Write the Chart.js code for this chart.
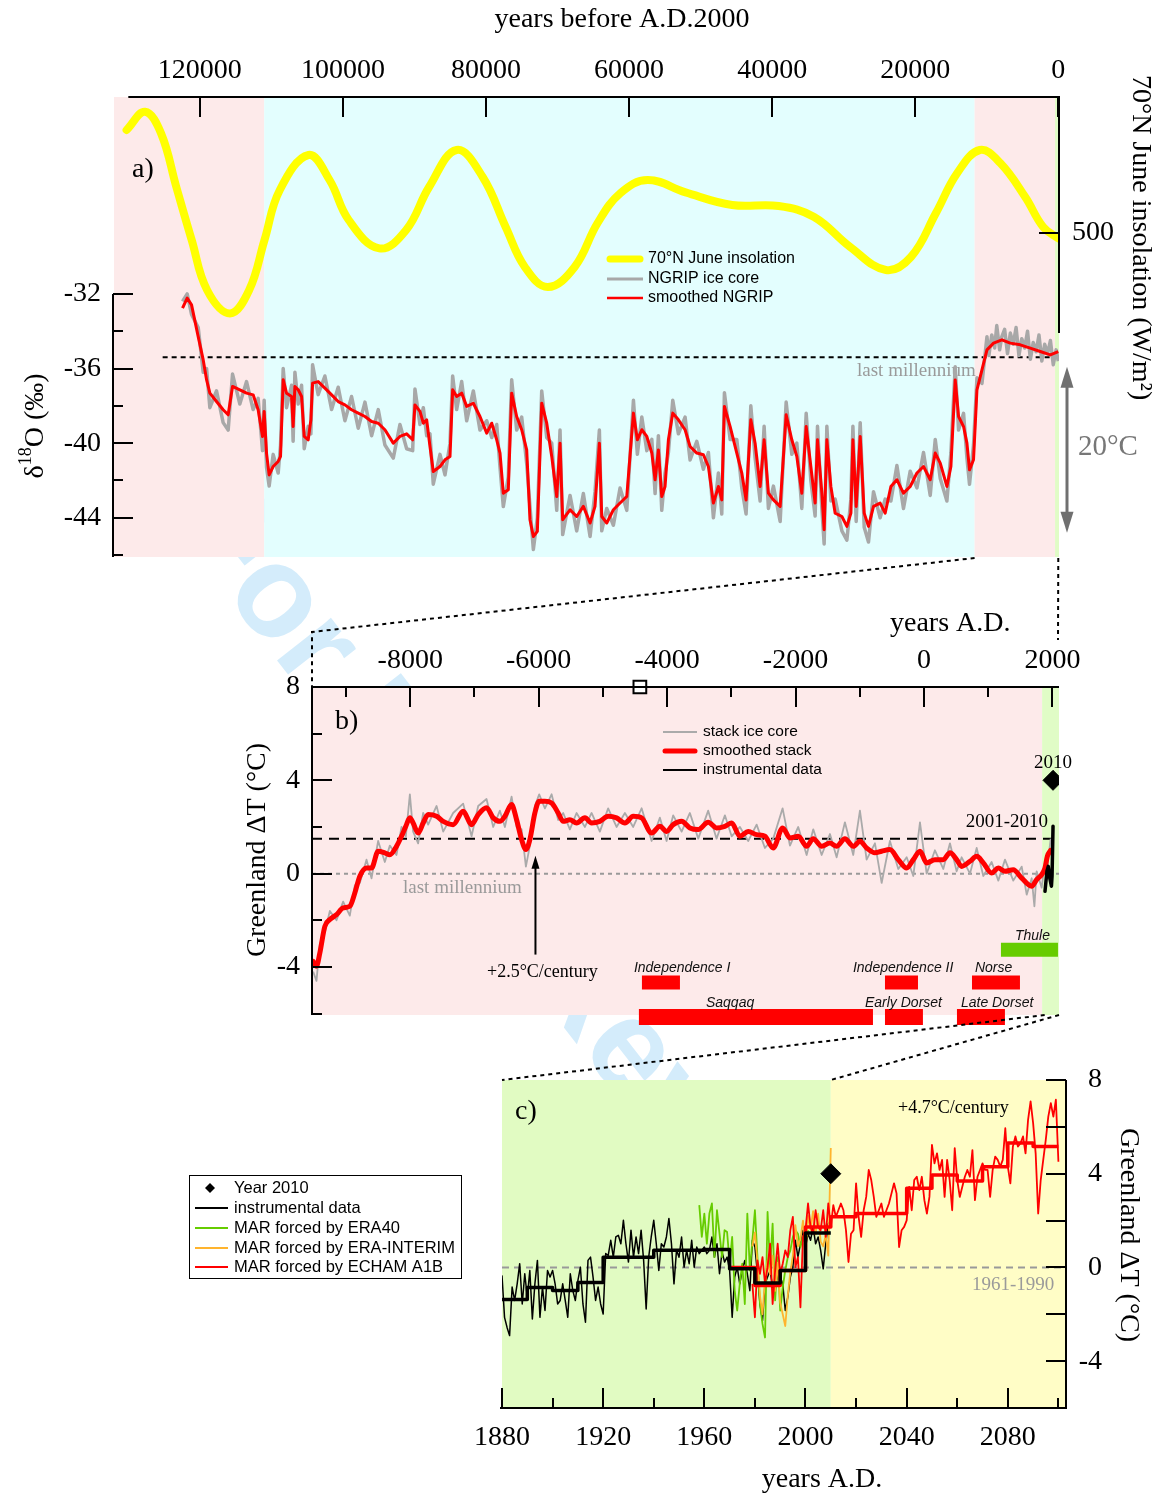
<!DOCTYPE html>
<html>
<head>
<meta charset="utf-8">
<title>Greenland temperature, NGRIP and MAR</title>
<script src="https://cdn.jsdelivr.net/npm/chart.js@4.4.1/dist/chart.umd.min.js"></script>
<style>
  html, body { margin: 0; padding: 0; background: #fff; }
  #page { position: relative; width: 1170px; height: 1497px; overflow: hidden; }
  #page canvas { position: absolute; left: 0; top: 0; }
</style>
</head>
<body>
<div id="page">
  <canvas id="wm" width="1170" height="1497"></canvas>
  <canvas id="chartA" width="1170" height="1497"></canvas>
  <canvas id="chartB" width="1170" height="1497"></canvas>
  <canvas id="chartC" width="1170" height="1497"></canvas>
</div>
<script>
// ---------- a) NGRIP d18O and 70N June insolation, years before A.D.2000
const insolAge = [130240, 127660, 125420, 123290, 121140, 118990, 115790, 113100, 110960, 108820,
  104810, 101870, 99190, 94910, 91160, 87950, 84100, 80460, 77250, 74570,
  71360, 67610, 64400, 61190, 57400, 52100, 45590, 39080, 34130, 29090,
  24100, 20600, 17100, 14120, 10970, 8110, 4620, 2110, 0];
const insolWm2 = [551.5, 560.6, 549.8, 523, 496.5, 471.5, 459.8, 471.5, 496.5, 521.5,
  539, 526.5, 506.5, 492.3, 501.5, 523, 541.5, 528, 503, 483,
  473, 483, 505, 520, 526.5, 520.3, 514, 513.5, 508, 493,
  481.5, 488, 510, 530, 541.5, 535, 518, 503, 497.3];

const ngripAge = [122420, 121770, 121160, 120230, 119530, 119060, 118600, 117670, 116740, 116040,
  115430, 114410, 113470, 112550, 111850, 111240, 111010, 110680, 110310, 109750,
  109050, 108720, 108350, 107880, 107180, 106960, 106710, 106250, 105780, 105410,
  104850, 104480, 104240, 103460, 102520, 101580, 100660, 99720, 98790, 97860,
  96920, 95990, 95060, 94130, 92960, 92030, 91090, 90250, 89930, 89230,
  88760, 88290, 87830, 87370, 86430, 85730, 85030, 84660, 84100, 83400,
  82700, 81770, 80840, 79900, 79200, 78500, 78040, 77580, 76880, 76410,
  75710, 75010, 74310, 73850, 73380, 72820, 72210, 71510, 70810, 70110,
  69650, 69280, 68250, 67320, 66390, 65450, 64760, 64150, 63820, 63120,
  62190, 61260, 60320, 59390, 58840, 58220, 57520, 56820, 56360, 55900,
  55430, 54970, 54500, 53890, 53100, 52170, 51470, 50530, 49610, 48910,
  48210, 47510, 47040, 46670, 45870, 44940, 44240, 43640, 42980, 42380,
  41680, 41120, 40520, 39820, 38880, 38040, 37250, 36550, 35850, 35240,
  34590, 33990, 33660, 33050, 32730, 32350, 31790, 31190, 30250, 29550,
  28990, 28710, 28250, 27690, 27130, 26530, 25830, 24900, 24200, 23400,
  22560, 21640, 20700, 19760, 18840, 17900, 17200, 16500, 15570, 15010,
  14410, 13940, 13240, 12770, 12410, 11850, 11370, 10670, 9970, 9050,
  7880, 6710, 5310, 3920, 2520, 1120, 0];
const ngripSmooth = [-32.77, -32.23, -32.59, -34.29, -35.54, -36.6, -37.32, -37.77, -38.21, -38.48,
  -36.96, -37.14, -37.32, -37.41, -38.21, -39.64, -38.3, -40.53, -41.7, -41.25,
  -40.98, -40.71, -36.6, -37.32, -37.5, -39.11, -36.96, -37.14, -37.5, -39.64,
  -39.82, -38.75, -36.78, -36.7, -37.05, -37.41, -37.77, -37.95, -38.21, -38.39,
  -38.57, -38.84, -38.93, -39.28, -40.0, -39.64, -39.5, -39.82, -37.95, -38.3,
  -38.93, -38.75, -40.18, -41.52, -41.25, -40.89, -40.71, -37.14, -37.5, -37.32,
  -38.03, -37.86, -38.57, -39.46, -38.93, -39.82, -40.53, -42.68, -42.5, -37.32,
  -38.57, -39.28, -40.36, -44.1, -45.0, -44.73, -37.86, -38.93, -40.71, -42.86,
  -40.0, -44.1, -43.57, -43.93, -43.39, -44.28, -43.39, -40.0, -43.93, -44.28,
  -43.57, -43.21, -42.86, -38.39, -39.82, -39.28, -39.64, -40.53, -41.96, -40.36,
  -42.86, -42.32, -39.82, -38.39, -38.75, -39.28, -40.18, -40.53, -40.62, -41.25,
  -43.21, -42.32, -43.04, -38.03, -39.11, -40.53, -41.6, -43.04, -38.75, -40.0,
  -42.32, -39.82, -42.68, -43.04, -43.39, -38.48, -39.82, -40.71, -42.68, -39.11,
  -41.25, -43.21, -39.82, -42.68, -44.64, -39.82, -42.32, -43.75, -43.93, -44.46,
  -43.75, -39.82, -43.39, -39.64, -43.75, -44.46, -43.39, -43.21, -43.75, -42.32,
  -41.96, -42.68, -42.32, -41.6, -41.25, -41.96, -40.53, -41.07, -42.32, -41.25,
  -36.61, -38.57, -39.11, -40.0, -41.43, -40.89, -37.14, -36.07, -35.0, -34.64,
  -34.46, -34.64, -34.73, -34.91, -35.09, -35.27, -35.09];
// the raw record shares the glacial sampling and has denser Holocene samples
const ngripRawAge = ngripAge.slice(0, 169).concat([9700, 9300, 8900, 8600, 8200, 7900, 7500, 7100,
  6700, 6300, 5900, 5500, 5100, 4700, 4300, 3900, 3500, 3100, 2700, 2300, 1900, 1500, 1100, 700, 300, 0]);
const ngripRaw = [-32.4, -32.0, -33.1, -33.8, -36.2, -36.0, -38.1, -37.2, -38.9, -39.3,
  -36.3, -37.9, -36.7, -38.2, -37.6, -40.4, -37.7, -41.3, -42.3, -40.6,
  -41.6, -40.1, -36.0, -38.1, -36.9, -39.9, -36.2, -37.9, -36.9, -40.3,
  -39.1, -39.5, -35.8, -37.4, -36.4, -38.2, -37.0, -38.8, -37.5, -39.2,
  -37.8, -39.6, -38.2, -40.1, -40.8, -39.0, -40.3, -40.4, -37.1, -39.0,
  -38.1, -39.6, -39.5, -42.2, -40.6, -41.7, -40.0, -36.4, -38.2, -36.7,
  -38.8, -37.2, -39.3, -38.8, -39.7, -39.0, -41.3, -43.4, -41.8, -36.6,
  -39.3, -38.6, -41.1, -43.4, -45.7, -44.0, -37.2, -39.7, -40.0, -43.6,
  -39.3, -44.9, -42.8, -44.7, -42.7, -45.0, -42.6, -39.3, -44.7, -43.5,
  -44.4, -42.4, -43.6, -37.7, -40.6, -38.6, -40.4, -39.8, -42.7, -39.6,
  -43.6, -41.6, -40.5, -37.7, -39.5, -38.6, -40.9, -39.9, -41.4, -40.5,
  -44.0, -41.6, -43.8, -37.3, -39.8, -39.8, -42.4, -43.8, -38.0, -40.8,
  -43.1, -39.1, -43.5, -42.3, -44.2, -37.8, -40.6, -40.0, -43.5, -38.4,
  -42.0, -43.9, -39.1, -43.5, -45.4, -39.1, -43.1, -43.0, -44.7, -45.2,
  -43.0, -39.1, -44.2, -38.9, -44.5, -45.3, -42.6, -44.0, -43.0, -43.1,
  -41.2, -43.5, -41.5, -42.4, -40.5, -42.8, -39.8, -41.9, -43.1, -40.5,
  -35.9, -39.3, -38.4, -40.8, -42.2, -40.1, -36.5, -36.8, -34.3,
  -35.3, -34.2, -34.9, -33.7, -35.0, -34.3, -33.9, -35.2, -34.1, -34.7, -33.8, -35.3, -34.4,
  -34.9, -34.0, -35.5, -34.6, -35.1, -34.2, -35.6, -34.7, -35.2, -34.5, -35.8, -35.0, -35.6];
const lastMillD18O = -35.4;
const ageTicks = [0, 20000, 40000, 60000, 80000, 100000, 120000];
const d18oTicks = [-46, -44, -42, -40, -38, -36, -34, -32];
const insolTicks = [500];
const periodAFrom = [132000, 111000, 11700, 450];
const periodATo = [111000, 11700, 450, -100];

// ---------- b) Holocene ice core stack, years A.D.
const stackYear = [-9512, -9460, -9408, -9330, -9252, -9148, -9045, -8941, -8863, -8785,
  -8681, -8603, -8500, -8396, -8318, -8214, -8136, -8069, -8006, -7955,
  -7877, -7799, -7721, -7590, -7487, -7332, -7176, -7045, -6942, -6812,
  -6708, -6604, -6526, -6422, -6344, -6266, -6199, -6137, -6059, -5992,
  -5903, -5799, -5696, -5618, -5514, -5410, -5280, -5176, -5047, -4918,
  -4787, -4657, -4528, -4397, -4241, -4112, -4008, -3905, -3774, -3645,
  -3515, -3360, -3230, -3100, -2995, -2866, -2737, -2606, -2477, -2347,
  -2201, -2087, -1958, -1827, -1724, -1593, -1464, -1360, -1231, -1101,
  -997, -893, -763, -659, -530, -400, -269, -166, -62, 42,
  171, 301, 405, 509, 587, 717, 821, 924, 1054, 1158,
  1262, 1391, 1522, 1678, 1755, 1833, 1885, 1921, 1974];
const stackSmooth = [-3.76, -3.97, -3.40, -2.26, -1.97, -1.76, -1.47, -1.40, -0.83, -0.11,
  0.24, 0.24, 0.96, 0.89, 0.81, 1.17, 1.60, 2.03, 2.39, 2.17,
  1.74, 2.17, 2.53, 2.46, 2.24, 2.10, 2.67, 2.10, 2.53, 2.82,
  2.39, 2.24, 2.46, 2.96, 2.31, 1.46, 1.03, 1.46, 2.60, 3.10,
  3.10, 3.03, 2.60, 2.24, 2.31, 2.17, 2.39, 2.17, 2.24, 2.46,
  2.39, 2.17, 2.46, 2.39, 1.74, 2.03, 1.81, 2.10, 2.24, 1.96,
  1.89, 2.20, 1.96, 2.03, 2.17, 1.60, 1.81, 1.67, 1.60, 1.10,
  1.96, 1.53, 1.60, 1.17, 1.49, 1.17, 1.31, 1.17, 1.49, 1.17,
  1.39, 1.10, 0.89, 0.96, 1.03, 0.60, 0.24, 0.60, 0.96, 0.46,
  0.60, 0.60, 0.89, 0.60, 0.31, 0.53, 0.74, 0.46, 0.03, 0.24,
  0.10, 0.17, -0.19, -0.54, -0.26, -0.04, 0.24, 0.74, 1.00];
const stackRawYear = stackYear.slice(0, 100).concat([1262, 1391, 1522, 1600, 1678, 1720, 1755, 1833, 1885, 1921, 1974]);
const stackRaw = [-4.2, -4.6, -3.0, -2.5, -1.6, -2.0, -1.2, -1.8, -0.5, -0.4,
  0.6, -0.2, 1.4, 0.5, 1.2, 0.8, 2.0, 1.6, 3.4, 1.8,
  1.3, 2.6, 2.1, 2.9, 1.8, 2.6, 3.0, 1.6, 2.9, 3.2,
  2.0, 2.7, 2.0, 3.3, 2.0, 1.9, 0.3, 1.2, 2.9, 3.4,
  2.8, 3.4, 2.3, 2.6, 1.9, 2.6, 2.0, 2.6, 1.8, 2.8,
  2.0, 2.6, 2.0, 2.8, 1.4, 2.4, 1.4, 2.5, 1.8, 2.6,
  1.5, 2.7, 1.5, 2.5, 1.6, 2.0, 1.4, 2.1, 1.1, 1.5,
  2.8, 1.2, 2.0, 0.8, 1.9, 0.8, 1.7, 0.7, 2.2, 0.8,
  2.7, 0.6, 1.3, -0.4, 1.4, 0.2, 0.7, -0.1, 2.2, 0.0,
  1.0, 0.2, 1.3, 0.1, 0.7, 0.0, 1.1, -0.1, 0.5, -0.3,
  0.6, -0.3, 0.3, -0.9, -0.2, -1.4, 0.1, -0.6, 0.5, 0.3, 1.5];
const instBYear = [1885, 1915, 1936, 1960, 1985, 1995, 2010];
const instB = [-0.76, 0.1, 0.31, -0.2, -0.54, -0.1, 2.03];
const mean2001to2010 = 1.5;
const lastMillDT = 0;
const year2010DT = 4.0;
const markYear = -4424;
const cultureName = ['Independence I', 'Saqqaq', 'Independence II', 'Early Dorset', 'Norse', 'Late Dorset', 'Thule'];
const cultureFrom = [-4392, -4439, -607, -607, 748, 514, 1199];
const cultureTo = [-3800, -794, -93, -16, 1495, 1261, 2087];
const adTicks = [-9000, -8000, -7000, -6000, -5000, -4000, -3000, -2000, -1000, 0, 1000, 2000];
const dtTicks = [-6, -4, -2, 0, 2, 4, 6, 8];

// ---------- c) Greenland temperature 1880-2100
const instStart = 1880;
const instAnnual = [-0.34, -2.13, -2.56, -2.91, -0.84, -1.41, -0.7, 0.16, -1.56, -0.27,
  -1.27, -0.13, -2.2, -0.7, 0.3, -2.13, -0.84, -1.84, -0.13, -0.41,
  -0.13, -0.7, -1.56, -1.41, -0.7, -1.41, -2.13, -0.27, -0.99, -1.41,
  -0.56, 0.01, -1.56, -2.34, 0.3, 0.44, -0.41, -1.41, -0.84, -1.56,
  -1.99, 0.59, 0.51, 1.16, 0.44, 1.3, 1.37, 1.01, 2.01, 1.01,
  0.23, 1.59, 0.44, 1.3, 0.59, 1.59, 0.3, -1.77, 0.44, 1.3,
  2.01, 1.01, -0.13, 1.01, 0.87, 1.3, 2.09, 1.01, -0.7, 0.73,
  0.44, 1.3, 0.01, 0.73, 0.16, 1.16, 0.01, 0.87, 0.59, 0.73,
  0.87, 0.59, 0.73, 1.3, 0.44, 1.01, -0.27, 0.66, 0.23, 0.44,
  -0.13, -2.13, -0.41, 0.01, -0.7, -0.13, 0.3, -0.27, -0.99, 1.16,
  0.87, -0.27, -1.56, -2.27, -0.7, -0.41, -0.13, -0.84, -0.99, -0.27,
  -0.41, -0.7, -1.84, -1.27, -0.41, 0.01, 1.16, 0.44, 1.01, 1.59,
  0.87, 1.44, 1.16, 1.73, 1.01, 1.3, 0.73, -0.06, 1.01, 1.87, 2.01];
const instDecadeStart = [1880, 1890, 1900, 1910, 1920, 1930, 1940, 1950, 1960, 1970, 1980, 1990, 2000];
const instDecade = [-1.37, -0.86, -0.99, -0.64, 0.43, 0.43, 0.73, 0.73, 0.76, -0.06, -0.66, -0.13, 1.47];
const era40Start = 1958;
const era40 = [2.66, 1.3, 2.3, 1.01, 2.3, 2.73, 0.44, 2.44, 1.44, 0.44,
  1.59, 1.51, 0.16, 1.3, -0.99, -1.84, -0.7, 0.16, -1.56, 2.3,
  -0.13, 1.16, 2.44, 0.44, -1.56, -2.41, -2.99, 2.37, 0.01, 1.87,
  -1.41, 0.44, -1.84, -0.84, -0.13, 0.44, 0.73, 1.3, 1.59, 1.44,
  0.87, 1.3, 1.01, 1.59];
const eraIntStart = 1979;
const eraInt = [0.9, 1.5, 0.2, -1.2, -2.0, -0.5, 0.3, -0.3, 0.5, -1.0,
  0.2, -1.5, -2.0, -2.5, -1.2, -0.2, 0.5, 1.8, 0.9, 1.2,
  2.0, 1.0, 2.2, 1.6, 2.4, 1.4, 2.3, 1.1, 0.9, 1.4,
  0.5, 5.1];
const echamStart = 1979;
const echam = [-0.7, -2.13, 0.3, -0.27, 0.44, -0.7, 0.01, 1.01, -1.56, -0.13,
  1.01, -0.27, 0.16, 0.73, 0.44, 1.59, 2.16, 0.01, 0.44, -1.7,
  1.3, 1.59, 2.73, 1.73, 1.44, 2.44, 1.73, 1.59, 2.44, 1.3,
  2.73, 1.73, 2.66, 2.16, 2.44, 2.73, 2.44, 1.59, 0.23, 1.44,
  1.59, 3.59, 2.16, 1.3, 2.44, 3.01, 4.16, 3.73, 3.01, 2.16,
  2.44, 2.73, 2.16, 2.44, 2.73, 3.16, 3.59, 3.16, 0.87, 1.59,
  1.73, 2.01, 3.44, 2.44, 3.73, 3.87, 3.3, 3.87, 2.87, 2.3,
  3.01, 5.23, 4.44, 4.87, 4.16, 4.59, 3.01, 4.59, 3.73, 2.44,
  5.09, 3.73, 3.01, 3.44, 3.87, 4.16, 3.87, 5.01, 2.87, 3.87,
  4.16, 4.44, 4.16, 4.16, 3.01, 4.16, 4.73, 4.59, 4.3, 4.59,
  5.94, 4.3, 3.59, 5.16, 5.59, 5.16, 5.3, 5.59, 4.87, 6.3,
  7.09, 6.16, 4.87, 2.3, 3.73, 4.59, 5.44, 6.44, 7.01, 6.44,
  7.16, 4.51];
const echamDecadeStart = [1970, 1980, 1990, 2000, 2010, 2020, 2030, 2040, 2050, 2060, 2070, 2080, 2090];
const echamDecade = [0.0, -0.77, -0.13, 1.73, 2.16, 2.3, 2.3, 3.38, 3.95, 3.69, 4.3, 5.31, 5.16];
const yearTicksC = [1880, 1900, 1920, 1940, 1960, 1980, 2000, 2020, 2040, 2060, 2080, 2100];

// ---------- styles
const SERIF = '"Liberation Serif", "Times New Roman", serif';
const SANS = '"Liberation Sans", Arial, sans-serif';
const PINK = '#fdeaea', CYAN = '#e3fefe', LGREEN = '#e0fcc6', CGREEN = '#e1fbc2', YELLOW = '#fffdc6';
const periodAFill = [PINK, CYAN, PINK, LGREEN];
const cultureRow = [-4.67, -6.15, -4.67, -6.15, -4.67, -6.15, -3.26];
const cultureLabelAt = [-4517, -3395, -1106, -919, 794, 576, 1417];

Chart.defaults.font.family = SERIF;
Chart.defaults.font.size = 28;
Chart.defaults.color = '#000';

// ---------- helpers
function pts(xs, ys) { return xs.map((x, i) => ({x: x, y: ys[i]})); }
function annual(start, ys) { return ys.map((y, i) => ({x: start + i, y: y})); }
function steps(starts, ys, end) {
  const p = pts(starts, ys);
  p.push({x: end, y: ys[ys.length - 1]});
  return p;
}
function fixBox(prop, v) {
  return s => { s[prop] = v; s.paddingLeft = 0; s.paddingRight = 0; s.paddingTop = 0; s.paddingBottom = 0; };
}
function setTicks(vals) { return s => { s.ticks = vals.map(v => ({value: v})); }; }
function seg(ctx, x1, y1, x2, y2) { ctx.beginPath(); ctx.moveTo(x1, y1); ctx.lineTo(x2, y2); ctx.stroke(); }
function label(ctx, str, x, y, o) {
  ctx.save();
  ctx.font = o.font; ctx.fillStyle = o.color || '#000';
  ctx.textAlign = o.align || 'left'; ctx.textBaseline = 'middle';
  ctx.translate(x, y);
  if (o.rot) ctx.rotate(o.rot);
  ctx.fillText(str, 0, 0);
  ctx.restore();
}
function tickMarks(ctx, scale, edge, dir, major, longLen, shortLen) {
  ctx.save(); ctx.strokeStyle = '#000'; ctx.lineWidth = 2;
  scale.ticks.forEach(t => {
    const p = Math.round(scale.getPixelForValue(t.value));
    const len = major(t.value) ? longLen : shortLen;
    if (scale.isHorizontal()) seg(ctx, p, edge, p, edge + dir * len);
    else seg(ctx, edge, p, edge + dir * len, p);
  });
  ctx.restore();
}
function band(chart, from, to, color) {
  const {ctx, chartArea: ca, scales: {x}} = chart;
  const x1 = x.getPixelForValue(from), x2 = x.getPixelForValue(to);
  ctx.fillStyle = color;
  ctx.fillRect(Math.min(x1, x2), ca.top, Math.abs(x2 - x1), ca.bottom - ca.top);
}
function vArrow(ctx, x, yTip, yTail, headW, headL, color, lw, both) {
  ctx.save(); ctx.strokeStyle = color; ctx.fillStyle = color; ctx.lineWidth = lw;
  const d = Math.sign(yTail - yTip);
  const head = (y, dd) => {
    ctx.beginPath(); ctx.moveTo(x, y);
    ctx.lineTo(x - headW / 2, y + dd * headL); ctx.lineTo(x + headW / 2, y + dd * headL);
    ctx.closePath(); ctx.fill();
  };
  seg(ctx, x, yTip + d * headL * 0.8, x, both ? yTail - d * headL * 0.8 : yTail);
  head(yTip, d);
  if (both) head(yTail, -d);
  ctx.restore();
}
function legendLine(ctx, x1, x2, y, color, w, tx, str, font) {
  ctx.save(); ctx.strokeStyle = color; ctx.lineWidth = w; ctx.lineCap = w > 4 ? 'round' : 'butt';
  seg(ctx, x1, y, x2, y);
  ctx.restore();
  label(ctx, str, tx, y, {font: font});
}
function diamond(ctx, x, y, r) {
  ctx.save(); ctx.fillStyle = '#000';
  ctx.beginPath(); ctx.moveTo(x, y - r); ctx.lineTo(x + r, y); ctx.lineTo(x, y + r); ctx.lineTo(x - r, y);
  ctx.closePath(); ctx.fill(); ctx.restore();
}
function baseOptions(padding) {
  return {
    responsive: false, animation: false, events: [],
    layout: {padding: padding},
    elements: {point: {radius: 0, hoverRadius: 0}, line: {borderJoinStyle: 'round'}},
    plugins: {legend: {display: false}, tooltip: {enabled: false}}
  };
}
function axis(extra) {
  return Object.assign({
    type: 'linear', grid: {display: false, drawTicks: false}, border: {display: false}
  }, extra);
}
function tickOpts(padding, cb, extra) {
  return Object.assign({padding: padding, autoSkip: false, maxRotation: 0, minRotation: 0,
    color: '#000', font: {family: SERIF, size: 28}, callback: cb}, extra || {});
}

// ---------- watermark under the panels
(function () {
  const w = document.getElementById('wm').getContext('2d');
  w.save();
  w.translate(202, 506); w.rotate(52 * Math.PI / 180);
  w.font = 'bold 130px ' + SANS; w.fillStyle = '#d4ecfb'; w.textBaseline = 'middle';
  w.fillText('For Peer Review', 0, 0);
  w.restore();
})();

// ---------- panel a
const decoA = {
  id: 'decoA',
  beforeDatasetsDraw(chart) {
    const ctx = chart.ctx;
    ctx.save();
    periodAFrom.forEach((f, i) => band(chart, f, periodATo[i], periodAFill[i]));
    ctx.restore();
    label(ctx, 'last millennium', 857, 371, {font: '19px ' + SERIF, color: '#9a9a9a'});
  },
  afterDraw(chart) {
    const {ctx, chartArea: ca, scales: {x, y, y2}} = chart;
    ctx.save(); ctx.strokeStyle = '#000'; ctx.lineWidth = 2;
    seg(ctx, x.getPixelForValue(130000), ca.top, ca.right + 1, ca.top);
    seg(ctx, ca.left - 1, y.getPixelForValue(-32), ca.left - 1, ca.bottom);
    seg(ctx, ca.right, ca.top, ca.right, y2.getPixelForValue(450));
    ctx.restore();
    tickMarks(ctx, x, ca.top, 1, () => true, 20, 20);
    tickMarks(ctx, y, ca.left - 1, 1, v => v % 4 === 0, 20, 10);
    tickMarks(ctx, y2, ca.right, -1, () => true, 20, 20);

    label(ctx, 'years before A.D.2000', 622, 20, {font: '28px ' + SERIF, align: 'center'});
    label(ctx, 'a)', 132, 170, {font: '28px ' + SERIF});
    label(ctx, '70°N June insolation (W/m²)', 1140, 75, {font: '28px ' + SERIF, rot: Math.PI / 2});

    // delta-18O title with superscript
    ctx.save();
    ctx.translate(36, 426); ctx.rotate(-Math.PI / 2);
    ctx.fillStyle = '#000'; ctx.textBaseline = 'middle';
    const big = '28px ' + SERIF, small = '18px ' + SERIF;
    ctx.font = big; const w1 = ctx.measureText('δ').width, w3 = ctx.measureText('O (‰)').width;
    ctx.font = small; const w2 = ctx.measureText('18').width;
    let px = -(w1 + w2 + w3) / 2;
    ctx.font = big; ctx.fillText('δ', px, 0); px += w1;
    ctx.font = small; ctx.fillText('18', px, -10); px += w2;
    ctx.font = big; ctx.fillText('O (‰)', px, 0);
    ctx.restore();

    const lf = '16px ' + SANS;
    legendLine(ctx, 610, 640, 259, '#ffff00', 7, 648, '70°N June insolation', lf);
    legendLine(ctx, 607, 643, 279, '#a8a8a8', 3, 648, 'NGRIP ice core', lf);
    legendLine(ctx, 607, 643, 298, '#ff0000', 2.5, 648, 'smoothed NGRIP', lf);

    vArrow(ctx, ca.right + 8, y.getPixelForValue(-35.9), y.getPixelForValue(-44.8), 13, 21, '#707070', 3, true);
    label(ctx, '20°C', 1078, 447, {font: '29px ' + SERIF, color: '#777'});
  }
};

const chartA = new Chart(document.getElementById('chartA'), {
  type: 'line',
  data: {datasets: [
    {label: '70°N June insolation', data: pts(insolAge, insolWm2), yAxisID: 'y2',
     borderColor: '#ffff00', borderWidth: 8, tension: 0.4, borderCapStyle: 'round'},
    {label: 'smoothed NGRIP', data: pts(ngripAge, ngripSmooth), borderColor: '#ff0000', borderWidth: 3},
    {label: 'NGRIP ice core', data: pts(ngripRawAge, ngripRaw), borderColor: '#a8a8a8', borderWidth: 3.5},
    {label: 'last millennium', data: [{x: 125200, y: lastMillD18O}, {x: 0, y: lastMillD18O}],
     borderColor: '#000', borderWidth: 2, borderDash: [5, 4]}
  ]},
  options: Object.assign(baseOptions({top: 0, left: 0, right: 0, bottom: 940}), {
    scales: {
      x: axis({position: 'top', reverse: true, min: -100, max: 132000,
        afterBuildTicks: setTicks(ageTicks), afterFit: fixBox('height', 97),
        ticks: tickOpts(10, v => String(v))}),
      y: axis({position: 'left', min: -46.1, max: -21.45,
        afterBuildTicks: setTicks(d18oTicks), afterFit: fixBox('width', 114),
        ticks: tickOpts(13, v => (v % 4 === 0 ? String(v) : ''))}),
      y2: axis({position: 'right', min: 338, max: 568,
        afterBuildTicks: setTicks(insolTicks), afterFit: fixBox('width', 111),
        ticks: tickOpts(13, v => String(v))})
    }
  }),
  plugins: [decoA]
});

// ---------- panel b
const decoB = {
  id: 'decoB',
  beforeDatasetsDraw(chart) {
    const ctx = chart.ctx;
    ctx.save();
    band(chart, -9530, 1840, PINK);
    band(chart, 1840, 2103, LGREEN);
    ctx.restore();
    label(ctx, 'last millennium', 403, 888, {font: '19px ' + SERIF, color: '#9a9a9a'});
  },
  afterDraw(chart) {
    const {ctx, chartArea: ca, scales: {x, y}} = chart;
    ctx.save(); ctx.strokeStyle = '#000'; ctx.lineWidth = 2;
    seg(ctx, ca.left - 1, ca.top, ca.right, ca.top);
    seg(ctx, ca.left, ca.top, ca.left, ca.bottom);
    ctx.restore();
    tickMarks(ctx, x, ca.top, 1, v => v % 2000 === 0, 20, 10);
    tickMarks(ctx, y, ca.left, 1, v => v % 4 === 0, 20, 10);

    label(ctx, 'years A.D.', 890, 624, {font: '28px ' + SERIF});
    label(ctx, 'Greenland ΔT (°C)', 258, 850, {font: '28px ' + SERIF, align: 'center', rot: -Math.PI / 2});
    label(ctx, 'b)', 335, 722, {font: '28px ' + SERIF});
    label(ctx, '2010', x.getPixelForValue(2010), 763, {font: '19px ' + SERIF, align: 'center'});
    label(ctx, '2001-2010', 1048, 822, {font: '19px ' + SERIF, align: 'right'});
    label(ctx, '+2.5°C/century', 487, 972, {font: '18px ' + SERIF});
    vArrow(ctx, x.getPixelForValue(-6050), y.getPixelForValue(0.77), y.getPixelForValue(-3.47), 8, 13, '#000', 2, false);

    cultureName.forEach((n, i) => {
      label(ctx, n, x.getPixelForValue(cultureLabelAt[i]), y.getPixelForValue(cultureRow[i]) - 14,
        {font: 'italic 14px ' + SANS, color: '#111'});
    });

    const lf = '15.5px ' + SANS;
    legendLine(ctx, 663, 697, 732, '#aaaaaa', 2, 703, 'stack ice core', lf);
    legendLine(ctx, 665, 695, 751, '#ff0000', 5, 703, 'smoothed stack', lf);
    legendLine(ctx, 663, 697, 770, '#000', 2, 703, 'instrumental data', lf);
  }
};

const cultureSets = cultureName.map((n, i) => ({
  label: n,
  data: [{x: cultureFrom[i], y: cultureRow[i]}, {x: cultureTo[i], y: cultureRow[i]}],
  borderColor: n === 'Thule' ? '#66cc00' : '#ff0000',
  borderWidth: cultureRow[i] < -6 ? 16 : 14, borderCapStyle: 'butt', clip: false
}));

const chartB = new Chart(document.getElementById('chartB'), {
  type: 'line',
  data: {datasets: [
    {label: 'mark', data: [{x: markYear, y: 8}], showLine: false, clip: false,
     pointRadius: 9, pointStyle: 'rect', pointBackgroundColor: '#fff', pointBorderColor: '#000', pointBorderWidth: 2},
    {label: 'Year 2010', data: [{x: 2010, y: year2010DT}], showLine: false,
     pointRadius: 10, pointStyle: 'rectRot', pointBackgroundColor: '#000', pointBorderColor: '#000'},
    {label: 'instrumental data', data: pts(instBYear, instB), borderColor: '#000', borderWidth: 3.5,
     borderCapStyle: 'round'},
    {label: 'smoothed stack', data: pts(stackYear, stackSmooth), borderColor: '#ff0000', borderWidth: 5,
     cubicInterpolationMode: 'monotone', borderCapStyle: 'round'},
    {label: 'stack ice core', data: pts(stackRawYear, stackRaw), borderColor: '#aaaaaa', borderWidth: 1.8},
    {label: '2001-2010', data: [{x: -9530, y: mean2001to2010}, {x: 2103, y: mean2001to2010}],
     borderColor: '#000', borderWidth: 2, borderDash: [10, 7]},
    {label: 'last millennium', data: [{x: -9530, y: lastMillDT}, {x: 2103, y: lastMillDT}],
     borderColor: '#999', borderWidth: 2, borderDash: [4, 4]}
  ].concat(cultureSets)},
  options: Object.assign(baseOptions({top: 600, left: 0, right: 111, bottom: 482}), {
    scales: {
      x: axis({position: 'top', min: -9530, max: 2103,
        afterBuildTicks: setTicks(adTicks), afterFit: fixBox('height', 87),
        ticks: tickOpts(10, v => (v % 2000 === 0 ? String(v) : ''))}),
      y: axis({position: 'left', min: -6.06, max: 8,
        afterBuildTicks: setTicks(dtTicks), afterFit: fixBox('width', 312),
        ticks: tickOpts(12, v => (v % 4 === 0 ? String(v) : ''))})
    }
  }),
  plugins: [decoB]
});

// ---------- panel c
const decoC = {
  id: 'decoC',
  beforeDatasetsDraw(chart) {
    const ctx = chart.ctx;
    ctx.save();
    band(chart, 1880, 2010, CGREEN);
    band(chart, 2010, 2103, YELLOW);
    ctx.restore();
    label(ctx, '1961-1990', 972, 1285, {font: '19px ' + SERIF, color: '#9a9a9a'});
  },
  afterDraw(chart) {
    const {ctx, chartArea: ca, scales: {x, y}} = chart;
    ctx.save(); ctx.strokeStyle = '#000'; ctx.lineWidth = 2;
    seg(ctx, ca.left - 2, ca.bottom, ca.right + 1, ca.bottom);
    seg(ctx, ca.right, ca.top, ca.right, ca.bottom);
    ctx.restore();
    tickMarks(ctx, x, ca.bottom, -1, v => (v - 1880) % 40 === 0, 20, 10);
    tickMarks(ctx, y, ca.right, -1, () => true, 20, 20);

    label(ctx, 'c)', 515, 1112, {font: '28px ' + SERIF});
    label(ctx, '+4.7°C/century', 898, 1108, {font: '18px ' + SERIF});
    label(ctx, 'Greenland ΔT (°C)', 1128, 1235, {font: '28px ' + SERIF, align: 'center', rot: Math.PI / 2});
    label(ctx, 'years A.D.', 822, 1480, {font: '28px ' + SERIF, align: 'center'});

    // legend box
    ctx.save(); ctx.strokeStyle = '#000'; ctx.lineWidth = 1;
    ctx.strokeRect(189.5, 1175.5, 272, 103);
    ctx.restore();
    const lf = '16.5px ' + SANS;
    diamond(ctx, 210, 1188, 5);
    label(ctx, 'Year 2010', 234, 1188, {font: lf});
    legendLine(ctx, 195, 228, 1208, '#000', 2, 234, 'instrumental data', lf);
    legendLine(ctx, 195, 228, 1228, '#66cc00', 2, 234, 'MAR forced by ERA40', lf);
    legendLine(ctx, 195, 228, 1248, '#ffb42e', 2, 234, 'MAR forced by ERA-INTERIM', lf);
    legendLine(ctx, 195, 228, 1267, '#ff0000', 2, 234, 'MAR forced by ECHAM A1B', lf);

    // dotted zoom connectors between the panels
    const a = chartA.chartArea, b = chartB.chartArea;
    ctx.save(); ctx.strokeStyle = '#000'; ctx.lineWidth = 2; ctx.setLineDash([4, 4]);
    ctx.beginPath();
    ctx.moveTo(chartA.scales.x.getPixelForValue(11700), a.bottom + 1);
    ctx.lineTo(b.left, b.top - 55); ctx.lineTo(b.left, b.top);
    ctx.stroke();
    seg(ctx, chartA.scales.x.getPixelForValue(0), a.bottom + 1, b.right - 1, b.top - 47);
    seg(ctx, chartB.scales.x.getPixelForValue(1880), b.bottom, ca.left, ca.top);
    seg(ctx, b.right, b.bottom, x.getPixelForValue(2010), ca.top);
    ctx.restore();
  }
};

const chartC = new Chart(document.getElementById('chartC'), {
  type: 'line',
  data: {datasets: [
    {label: 'Year 2010', data: [{x: 2010, y: year2010DT}], showLine: false,
     pointRadius: 10, pointStyle: 'rectRot', pointBackgroundColor: '#000', pointBorderColor: '#000'},
    {label: 'instrumental decades', data: steps(instDecadeStart, instDecade, 2010), stepped: 'before',
     borderColor: '#000', borderWidth: 3.5},
    {label: 'ECHAM A1B decades', data: steps(echamDecadeStart, echamDecade, 2100), stepped: 'before',
     borderColor: '#ff0000', borderWidth: 3.5},
    {label: 'MAR forced by ECHAM A1B', data: annual(echamStart, echam), borderColor: '#ff0000', borderWidth: 1.8},
    {label: 'MAR forced by ERA-INTERIM', data: annual(eraIntStart, eraInt), borderColor: '#ffb42e', borderWidth: 1.8},
    {label: 'MAR forced by ERA40', data: annual(era40Start, era40), borderColor: '#66cc00', borderWidth: 1.8},
    {label: 'instrumental data', data: annual(instStart, instAnnual), borderColor: '#000', borderWidth: 1.5},
    {label: '1961-1990', data: [{x: 1880, y: 0}, {x: 2103, y: 0}],
     borderColor: '#999', borderWidth: 2, borderDash: [7, 5]}
  ]},
  options: Object.assign(baseOptions({top: 1080, left: 502, right: 68, bottom: 0}), {
    scales: {
      x: axis({position: 'bottom', min: 1880, max: 2103,
        afterBuildTicks: setTicks(yearTicksC), afterFit: fixBox('height', 89),
        ticks: tickOpts(13, v => ((v - 1880) % 40 === 0 ? String(v) : ''))}),
      y: axis({position: 'right', min: -6, max: 8,
        afterBuildTicks: setTicks(dtTicks), afterFit: fixBox('width', 36),
        ticks: tickOpts(13, v => (v % 4 === 0 ? String(v) : ''), {crossAlign: 'far'})})
    }
  }),
  plugins: [decoC]
});
</script>
</body>
</html>
